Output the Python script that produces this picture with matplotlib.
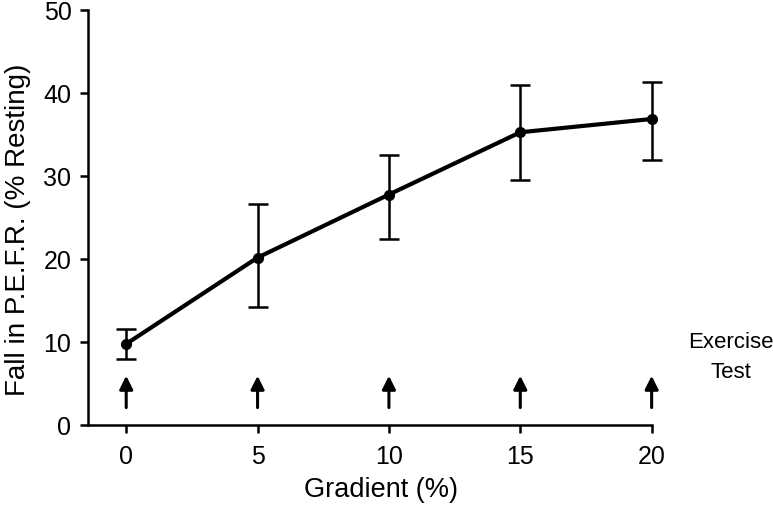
import matplotlib.pyplot as plt

# data
gradient = [0, 5, 10, 15, 20]
fall = [9.8, 20.2, 27.8, 35.3, 36.9]
err_low = [8.0, 14.2, 22.4, 29.6, 31.9]
err_high = [11.6, 26.7, 32.6, 41.0, 41.4]
x_ticks = [0, 5, 10, 15, 20]
y_ticks = [0, 10, 20, 30, 40, 50]

plt.rcParams['font.family'] = ['Liberation Sans', 'DejaVu Sans']

fig = plt.figure(figsize=(7.73, 5.13), dpi=100)
ax = fig.add_axes([0.114, 0.171, 0.729, 0.809])

yerr = [[f - lo for f, lo in zip(fall, err_low)],
        [hi - f for f, hi in zip(fall, err_high)]]
ax.errorbar(gradient, fall, yerr=yerr, color='black', lw=3, marker='o',
            ms=7, elinewidth=1.8, capsize=7.5, capthick=1.8, clip_on=False)

# exercise test arrows
for g in gradient:
    ax.annotate('', xy=(g, 6.3), xytext=(g, 1.8),
                arrowprops=dict(arrowstyle='-|>,head_length=0.8,head_width=0.4',
                                color='black', lw=2.2))

ax.text(23.0, 8.2, 'Exercise\nTest', ha='center', va='center',
        fontsize=16, linespacing=1.55)

ax.set_xlim(-1.45, 20)
ax.set_ylim(0, 50)
ax.set_xticks(x_ticks)
ax.set_yticks(y_ticks)
ax.spines['top'].set_visible(False)
ax.spines['right'].set_visible(False)
for s in ['left', 'bottom']:
    ax.spines[s].set_linewidth(1.8)
ax.tick_params(width=1.8, length=6, labelsize=18)
ax.tick_params(axis='x', pad=8)
ax.tick_params(axis='y', pad=6)
ax.set_xlabel('Gradient (%)', fontsize=19.5)
ax.xaxis.set_label_coords(0.52, -0.125)
ax.set_ylabel('Fall in P.E.F.R. (% Resting)', fontsize=20)
ax.yaxis.set_label_coords(-0.102, 0.47)

plt.savefig('out.png', dpi=100)
